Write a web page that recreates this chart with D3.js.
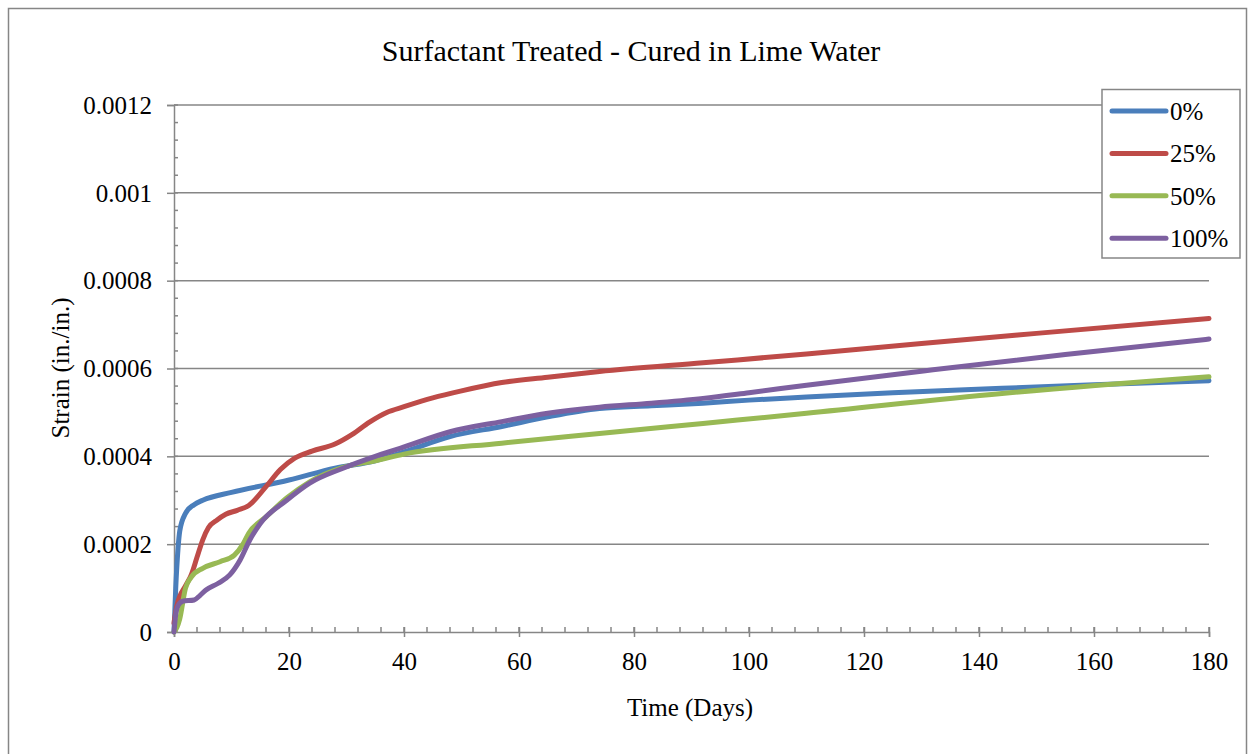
<!DOCTYPE html>
<html>
<head>
<meta charset="utf-8">
<script src="https://cdn.jsdelivr.net/npm/d3@7"></script>
<style>
  body { margin: 0; background: #fff; }
  text { font-family: "Liberation Serif", "DejaVu Serif", serif; fill: #000; }
</style>
</head>
<body>
<svg id="chart" width="1255" height="754"></svg>
<script>
// Series values: [day, strain]
var series0 = [[0,0],[0.3,0.0001],[0.7,0.00019],[1,0.00023],[2,0.00027],[3.5,0.00029],[5,0.0003],
  [10,0.000318],[20,0.000346],[28,0.000373],[35,0.00039],[40,0.00041],[48,0.000445],[57,0.000468],
  [65,0.00049],[74,0.000509],[83,0.000515],[92,0.000521],[100,0.000528],[110,0.000535],[125,0.000545],
  [144,0.000555],[160,0.000563],[180,0.000572]];
var series25 = [[0,0.00002],[0.5,0.00006],[2,0.000105],[3,0.00013],[4,0.00017],[5,0.00021],[6,0.000238],
  [7.5,0.000255],[9,0.000268],[11,0.000277],[13,0.000288],[16,0.000331],[18.5,0.00037],[21,0.000396],
  [24,0.000412],[28,0.000428],[31,0.00045],[34,0.000478],[37,0.0005],[40,0.000513],[45,0.000533],
  [50,0.000549],[57,0.000568],[65,0.00058],[74,0.000593],[92,0.000613],[110,0.000633],[130,0.000657],
  [150,0.00068],[180,0.000714]];
var series50 = [[0,0],[0.5,0.00001],[1,0.00003],[2,0.0001],[3,0.000125],[5,0.000145],[8,0.00016],
  [10.5,0.000175],[12,0.0002],[13,0.000225],[16,0.000262],[19.6,0.000305],[23.6,0.000342],
  [29.4,0.000375],[35,0.00039],[40,0.000405],[57,0.00043],[74,0.000452],[92,0.000475],[110,0.000498],
  [144,0.000543],[180,0.000581]];
var series100 = [[0,0],[0.3,0.00004],[0.7,0.00006],[1.5,0.00007],[3.5,0.000073],[4.5,0.000083],
  [5.5,0.000095],[7.7,0.000111],[9.7,0.00013],[11.5,0.000164],[13.2,0.00021],[15,0.000247],
  [19.6,0.0003],[23.6,0.000339],[29.4,0.000373],[35,0.0004],[39.3,0.000418],[48,0.000456],
  [57,0.000479],[65,0.000498],[74,0.000512],[83,0.000521],[92,0.000532],[100,0.000545],
  [110,0.000562],[132,0.000597],[155,0.000632],[180,0.000667]];

var seriesNames = ['0%', '25%', '50%', '100%'];
var seriesColors = ['#4A7EBB', '#BE4B48', '#98B954', '#7D60A0'];
var xTicks = [0, 20, 40, 60, 80, 100, 120, 140, 160, 180];
var yTicks = [0, 0.0002, 0.0004, 0.0006, 0.0008, 0.001, 0.0012];
var yTickLabels = ['0', '0.0002', '0.0004', '0.0006', '0.0008', '0.001', '0.0012'];

var allSeries = [series0, series25, series50, series100];

var svg = d3.select('#chart');
var plotLeft = 174, plotRight = 1209, plotTop = 105, plotBottom = 632;
var gridColor = '#868686';

var x = d3.scaleLinear().domain([0, 180]).range([plotLeft, plotRight]);
var y = d3.scaleLinear().domain([0, 0.0012]).range([plotBottom, plotTop]);

// Outer chart border
svg.append('rect')
  .attr('x', 8.5).attr('y', 8.5)
  .attr('width', 1238).attr('height', 760)
  .attr('fill', 'none')
  .attr('stroke', gridColor)
  .attr('stroke-width', 1.5);

// Title
svg.append('text')
  .text('Surfactant Treated - Cured in Lime Water')
  .attr('x', 631).attr('y', 61)
  .attr('text-anchor', 'middle')
  .attr('font-size', 30);

// Horizontal gridlines
svg.append('g').selectAll('line')
  .data(yTicks.slice(1))
  .enter()
    .append('line')
      .attr('x1', plotLeft).attr('x2', plotRight)
      .attr('y1', function(d) { return y(d); })
      .attr('y2', function(d) { return y(d); })
      .attr('stroke', gridColor)
      .attr('stroke-width', 1.5);

// Y axis (minor ticks inside, major ticks outside)
var yAxis = d3.axisLeft(y).tickValues(yTicks).tickSize(7)
  .tickFormat(function(d, i) { return yTickLabels[i]; }).tickPadding(15);
var gy = svg.append('g').attr('transform', 'translate(' + plotLeft + ',0)').call(yAxis);
gy.select('.domain').attr('stroke', gridColor).attr('stroke-width', 1.5);
gy.selectAll('.tick line').attr('stroke', gridColor).attr('stroke-width', 1.5);
gy.selectAll('.tick text').attr('font-size', 25)
  .attr('font-family', '"Liberation Serif", serif').attr('fill', '#000')
  .attr('dy', '0.33em');

var yMinor = d3.range(0, 0.0012 + 1e-9, 0.00004);
svg.append('g').selectAll('line')
  .data(yMinor)
  .enter()
    .append('line')
      .attr('x1', plotLeft).attr('x2', plotLeft + 4)
      .attr('y1', function(d) { return y(d); })
      .attr('y2', function(d) { return y(d); })
      .attr('stroke', gridColor)
      .attr('stroke-width', 1.5);

// X axis
var xAxis = d3.axisBottom(x).tickValues(xTicks).tickSize(5).tickPadding(15);
var gx = svg.append('g').attr('transform', 'translate(0,' + plotBottom + ')').call(xAxis);
gx.select('.domain').attr('stroke', gridColor).attr('stroke-width', 1.5);
gx.selectAll('.tick line').attr('y1', -5).attr('y2', 5)
  .attr('stroke', gridColor).attr('stroke-width', 1.5);
gx.selectAll('.tick text').attr('font-size', 25)
  .attr('font-family', '"Liberation Serif", serif').attr('fill', '#000');

var xMinor = d3.range(0, 181, 4);
svg.append('g').selectAll('line')
  .data(xMinor)
  .enter()
    .append('line')
      .attr('x1', function(d) { return x(d); })
      .attr('x2', function(d) { return x(d); })
      .attr('y1', plotBottom - 5).attr('y2', plotBottom)
      .attr('stroke', gridColor)
      .attr('stroke-width', 1.5);

// Axis titles
svg.append('text')
  .text('Time (Days)')
  .attr('x', 690).attr('y', 716)
  .attr('text-anchor', 'middle')
  .attr('font-size', 25);

svg.append('text')
  .text('Strain (in./in.)')
  .attr('transform', 'translate(69,368) rotate(-90)')
  .attr('text-anchor', 'middle')
  .attr('font-size', 25);

// Series lines
var line = d3.line()
  .x(function(d) { return x(d[0]); })
  .y(function(d) { return y(d[1]); })
  .curve(d3.curveMonotoneX);

svg.append('g').selectAll('path')
  .data(allSeries)
  .enter()
    .append('path')
      .attr('d', line)
      .attr('fill', 'none')
      .attr('stroke', function(d, i) { return seriesColors[i]; })
      .attr('stroke-width', 5)
      .attr('stroke-linejoin', 'round')
      .attr('stroke-linecap', 'round');

// Legend
var legend = svg.append('g');
legend.append('rect')
  .attr('x', 1102).attr('y', 89.5)
  .attr('width', 138).attr('height', 168.5)
  .attr('fill', '#fff')
  .attr('stroke', gridColor)
  .attr('stroke-width', 1.5);

var items = legend.selectAll('g.item')
  .data(seriesNames)
  .enter()
    .append('g')
      .attr('class', 'item')
      .attr('transform', function(d, i) { return 'translate(0,' + (111 + i * 42.4) + ')'; });

items.append('line')
  .attr('x1', 1112).attr('x2', 1166)
  .attr('y1', 0).attr('y2', 0)
  .attr('stroke', function(d, i) { return seriesColors[i]; })
  .attr('stroke-width', 5)
  .attr('stroke-linecap', 'round');

items.append('text')
  .text(function(d) { return d; })
  .attr('x', 1170).attr('y', 9)
  .attr('font-size', 25);
</script>
</body>
</html>
